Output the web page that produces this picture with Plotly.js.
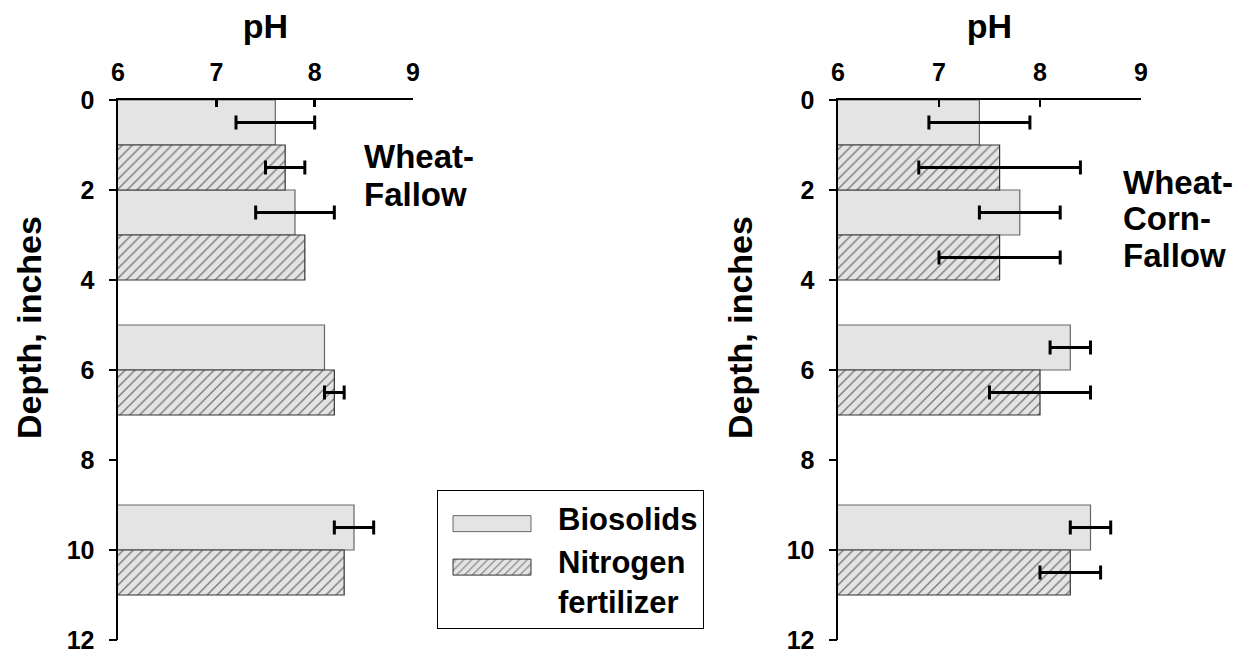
<!DOCTYPE html>
<html><head><meta charset="utf-8">
<script src="https://cdn.plot.ly/plotly-3.0.1.min.js"></script>
<style>body{margin:0;background:#fff}#chart{width:1236px;height:650px}</style>
</head><body><div id="chart"></div>
<script>
// Depth positions (inches, centre of each 1-inch bar)
var biosolidsDepth = [0.5, 2.5, 5.5, 9.5];
var nitrogenDepth = [1.5, 3.5, 6.5, 10.5];
// Wheat-Fallow
var wfBiosolids = [7.6, 7.8, 8.1, 8.4];
var wfBiosolidsErr = [0.4, 0.4, NaN, 0.2];
var wfNitrogen = [7.7, 7.9, 8.2, 8.3];
var wfNitrogenErr = [0.2, NaN, 0.1, NaN];
// Wheat-Corn-Fallow
var wcfBiosolids = [7.4, 7.8, 8.3, 8.5];
var wcfBiosolidsErr = [0.5, 0.4, 0.2, 0.2];
var wcfNitrogen = [7.6, 7.6, 8.0, 8.3];
var wcfNitrogenErr = [0.8, 0.6, 0.5, 0.3];
var seriesNames = ['Biosolids', 'Nitrogen<br>fertilizer'];
var xTicks = [6, 7, 8, 9];
var yTicks = [0, 2, 4, 6, 8, 10, 12];
var panelLabels = [['Wheat-', 'Fallow'], ['Wheat-', 'Corn-', 'Fallow']];

var F = 'Arial, "Liberation Sans", sans-serif';
function err(a){return {type:'data', array:a, symmetric:true, color:'#000', thickness:3, width:7};}
var fillGray = '#e4e4e4';
function bio(x, e, xa, ya, show){
  return {type:'bar', orientation:'h', x:x, y:biosolidsDepth, width:1, name:seriesNames[0],
    xaxis:xa, yaxis:ya, showlegend:show, error_x:err(e),
    marker:{color:fillGray, line:{color:'#666', width:1.2}}};
}
function nit(x, e, xa, ya, show){
  return {type:'bar', orientation:'h', x:x, y:nitrogenDepth, width:1, name:seriesNames[1],
    xaxis:xa, yaxis:ya, showlegend:show, error_x:err(e),
    marker:{color:fillGray, line:{color:'#333', width:1.2},
      pattern:{shape:'/', fgcolor:'#111', bgcolor:fillGray, size:7, solidity:0.2, fillmode:'overlay'}}};
}
// empty helper traces so the tick-mark overlay axes are drawn
function tickHolder(xa, ya){
  return {type:'scatter', mode:'markers', x:[], y:[], xaxis:xa, yaxis:ya, showlegend:false, hoverinfo:'skip'};
}
var data = [
  bio(wfBiosolids, wfBiosolidsErr, 'x', 'y', true),
  nit(wfNitrogen, wfNitrogenErr, 'x', 'y', true),
  bio(wcfBiosolids, wcfBiosolidsErr, 'x2', 'y2', false),
  nit(wcfNitrogen, wcfNitrogenErr, 'x2', 'y2', false),
  tickHolder('x3', 'y3'),
  tickHolder('x4', 'y4')
];
var tickFont = {family:F, size:25, color:'#000', weight:'bold'};
var clear = 'rgba(0,0,0,0)';
// label-carrying axes (transparent ticks used only as label offset)
function xax(dom, anchor){
  return {domain:dom, anchor:anchor, side:'top', range:[6,9], tickmode:'array', tickvals:xTicks, ticktext:xTicks.map(String),
    ticks:'outside', ticklen:7, tickcolor:clear,
    showline:true, linewidth:2.5, linecolor:'#000', showgrid:false, zeroline:false,
    tickfont:tickFont, ticklabeloverflow:'allow',
    title:{text:'pH', font:{family:F, size:34, color:'#000', weight:'bold'}, standoff:9}};
}
function yax(dom, anchor){
  return {domain:dom, anchor:anchor, range:[12, 0], tickmode:'array', tickvals:yTicks, ticktext:yTicks.map(String),
    ticks:'outside', ticklen:16, tickcolor:clear,
    showline:true, linewidth:2.5, linecolor:'#000', showgrid:false, zeroline:false,
    tickfont:tickFont, ticklabeloverflow:'allow'};
}
// tick-mark-only overlay axes
function xtk(over, anchor){
  return {overlaying:over, anchor:anchor, side:'top', range:[6,9], tickmode:'array', tickvals:xTicks,
    ticks:'inside', ticklen:7, tickwidth:2.5, tickcolor:'#000', showticklabels:false,
    showline:false, showgrid:false, zeroline:false};
}
function ytk(over, anchor){
  return {overlaying:over, anchor:anchor, range:[12, 0], tickmode:'array', tickvals:yTicks,
    ticks:'outside', ticklen:8, tickwidth:2.5, tickcolor:'#000', showticklabels:false,
    showline:false, showgrid:false, zeroline:false};
}
var PW = 1236, T = 100, PH = 540;
function px(x){return x/PW;}
function py(y){return (T + PH - y)/PH;}
var annotations = [
  {x:px(29), y:py(328), text:'Depth, inches', textangle:-90},
  {x:px(740), y:py(328), text:'Depth, inches', textangle:-90}
].map(function(a){return Object.assign({xref:'paper', yref:'paper', showarrow:false, xanchor:'center', yanchor:'middle',
  font:{family:F, size:34, color:'#000', weight:'bold'}}, a);});
var leftLineY = [156, 194], rightLineY = [182, 219, 255];
panelLabels[0].forEach(function(t, i){
  annotations.push({xref:'paper', yref:'paper', x:px(362), y:py(leftLineY[i]), xanchor:'left', yanchor:'middle', showarrow:false,
    text:t, font:{family:F, size:33, color:'#000', weight:'bold'}});
});
panelLabels[1].forEach(function(t, i){
  annotations.push({xref:'paper', yref:'paper', x:px(1121), y:py(rightLineY[i]), xanchor:'left', yanchor:'middle', showarrow:false,
    text:t, font:{family:F, size:33, color:'#000', weight:'bold'}});
});
var layout = {
  width:1236, height:650, margin:{l:0, r:0, t:T, b:10},
  paper_bgcolor:'#fff', plot_bgcolor:'rgba(0,0,0,0)', barmode:'overlay', bargap:0,
  font:{family:F, color:'#000', size:25, weight:'bold'},
  xaxis: xax([px(118), px(413)], 'y'),
  yaxis: yax([0,1], 'x'),
  xaxis2: xax([px(838), px(1141)], 'y2'),
  yaxis2: yax([0,1], 'x2'),
  xaxis3: xtk('x', 'y3'),
  yaxis3: ytk('y', 'x3'),
  xaxis4: xtk('x2', 'y4'),
  yaxis4: ytk('y2', 'x4'),
  legend:{x:px(437), y:py(490), xanchor:'left', yanchor:'top', bgcolor:'#fff', bordercolor:'#000', borderwidth:1,
    font:{family:F, size:31, color:'#000', weight:'bold'}, itemwidth:110, tracegroupgap:0},
  annotations:annotations
};
Plotly.newPlot('chart', data, layout, {displayModeBar:false, staticPlot:true}).then(function(gd){
  var shapes = ['M33,14H-45V-2H33Z', 'M33,-6H-45V-22H33Z'];
  gd.querySelectorAll('.legend .traces').forEach(function(tr, i){
    tr.querySelectorAll('.legendpoints path').forEach(function(p){
      p.setAttribute('d', shapes[i] || shapes[0]);
      p.style.strokeWidth = '1px';
    });
  });
});
</script></body></html>
